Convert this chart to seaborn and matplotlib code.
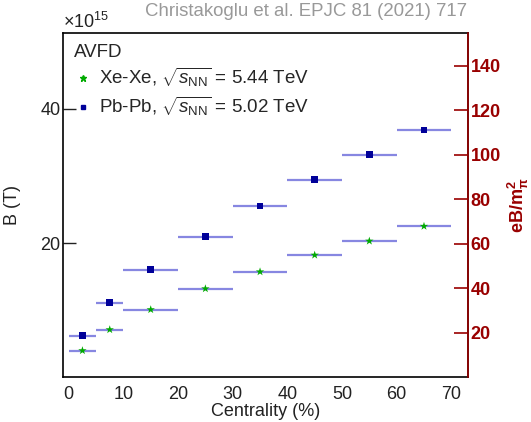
import matplotlib
matplotlib.use("Agg")
import matplotlib.pyplot as plt
import seaborn as sns
import pandas as pd
from matplotlib.lines import Line2D

sns.set_theme(style="white")
plt.rcParams['font.family'] = ['Liberation Sans', 'DejaVu Sans']
plt.rcParams['mathtext.fontset'] = 'custom'
plt.rcParams['mathtext.rm'] = 'Liberation Sans'
plt.rcParams['mathtext.it'] = 'Liberation Sans:italic'
plt.rcParams['mathtext.bf'] = 'Liberation Sans:bold'

# Data (B in units of 1e15 T)
bin_lo = [0, 5, 10, 20, 30, 40, 50, 60]
bin_hi = [5, 10, 20, 30, 40, 50, 60, 70]
pbpb_B = [6.23, 11.13, 16.03, 20.94, 25.5, 29.45, 33.17, 36.8]
xexe_B = [4.0, 7.12, 10.1, 13.21, 15.73, 18.21, 20.3, 22.5]
x_ticks = [0, 10, 20, 30, 40, 50, 60, 70]
y_ticks = [20, 40]
r_ticks = [20, 40, 60, 80, 100, 120, 140]

centers = [(a + b) / 2 for a, b in zip(bin_lo, bin_hi)]
halfw = [(b - a) / 2 for a, b in zip(bin_lo, bin_hi)]
df = pd.DataFrame({
    "cent": centers * 2,
    "B": pbpb_B + xexe_B,
    "sys": ["Pb-Pb"] * len(centers) + ["Xe-Xe"] * len(centers),
})

dark_red = "#990000"
err_col = "#7272dc"
pb_col = "#000099"
xe_col = "#00aa00"

fig = plt.figure(figsize=(5.31, 4.22), dpi=100)
ax = fig.add_axes([0.1192, 0.1055, 0.7616, 0.8155])

ax.errorbar(centers, pbpb_B, xerr=halfw, fmt='none', ecolor=err_col, elinewidth=1.6, alpha=0.85, capsize=0)
ax.errorbar(centers, xexe_B, xerr=halfw, fmt='none', ecolor=err_col, elinewidth=1.6, alpha=0.85, capsize=0)
sns.scatterplot(data=df[df.sys == "Pb-Pb"], x="cent", y="B", color=pb_col, marker="s",
                s=22, edgecolor='none', legend=False, ax=ax, zorder=3)
sns.scatterplot(data=df[df.sys == "Xe-Xe"], x="cent", y="B", color=xe_col, marker="*",
                s=40, edgecolor='none', legend=False, ax=ax, zorder=3)

ax.set_xlim(-1, 73)
ax.set_ylim(0, 51.2)
ax.set_xticks(x_ticks)
ax.set_yticks(y_ticks)
ax.tick_params(axis='both', direction='in', length=9, width=1, labelsize=13, colors='#222222')
ax.tick_params(axis='x', pad=6)
ax.tick_params(axis='y', pad=2)
for sp in ax.spines.values():
    sp.set_color('black')
    sp.set_linewidth(1.2)
ax.set_xlabel("Centrality (%)", fontsize=13, labelpad=0, color='#222222')
ax.set_ylabel("B (T)", fontsize=13, labelpad=14, color='#222222')

ax2 = ax.twinx()
ax2.set_ylim(0, 154.5)
ax2.set_yticks(r_ticks)
ax2.tick_params(axis='y', direction='in', length=10, width=1.2, colors=dark_red, labelsize=13, pad=2)
for lab in ax2.get_yticklabels():
    lab.set_fontweight('bold')
ax2.spines['right'].set_color(dark_red)
ax2.spines['right'].set_linewidth(1.2)
for s in ['left', 'top', 'bottom']:
    ax2.spines[s].set_visible(False)
ax2.set_ylabel(r"eB/m$_{\mathbf{\pi}}^{\mathbf{2}}$", fontsize=13, color=dark_red, fontweight='bold', labelpad=4)
ax2.grid(False)

handles = [
    Line2D([], [], marker='*', color=xe_col, linestyle='none', markersize=4.5),
    Line2D([], [], marker='s', color=pb_col, linestyle='none', markersize=3.5),
]
labels = [r"Xe-Xe, $\sqrt{s_{\mathrm{NN}}}$ = 5.44 TeV",
          r"Pb-Pb, $\sqrt{s_{\mathrm{NN}}}$ = 5.02 TeV"]
leg = ax.legend(handles, labels, title="AVFD", loc='upper left', bbox_to_anchor=(0.0, 1.0),
                frameon=False, fontsize=13.5, title_fontsize=13.5, handlelength=1.0,
                handletextpad=0.35, labelspacing=0.3, borderaxespad=0.25, borderpad=0.3)
leg._legend_box.align = "left"

fig.text(0.118, 0.972, r"$\times10^{15}$", fontsize=13, color='#222222', ha='left', va='top')
fig.text(0.88, 0.992, "Christakoglu et al. EPJC 81 (2021) 717", fontsize=13.4, color='#999999',
         ha='right', va='top')

fig.savefig("out.png", dpi=100)
